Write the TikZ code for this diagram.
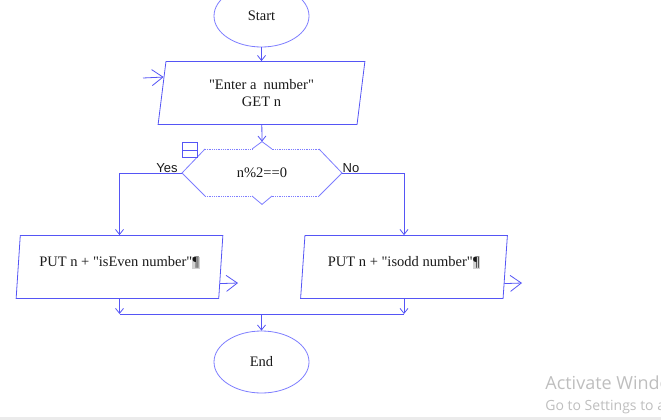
\documentclass[tikz,border=0pt]{standalone}
\usepackage{fontspec}
\setmainfont{Liberation Serif}
\newfontfamily\yesnofont{Liberation Sans}
\newfontfamily\winfont{Open Sans}
\usetikzlibrary{arrows.meta,shapes.geometric,calc}
\definecolor{rapBlue}{RGB}{85,85,245}
\definecolor{rapLight}{RGB}{125,125,255}
\definecolor{ink}{RGB}{25,25,25}
\definecolor{winGray}{RGB}{190,190,190}
\newcommand{\pil}{{\setlength{\fboxsep}{0.4pt}\colorbox{black!18}{¶}}}
\newcommand{\dq}{\textquotedbl}

\begin{document}
\begin{tikzpicture}[
  x=1pt,y=-1pt,
  >={Straight Barb[length=5pt,width=8pt]},
  line width=0.8pt,
  font=\fontsize{14.5}{17}\selectfont,
  term/.style={ellipse,draw=rapLight,minimum width=95pt,minimum height=62pt,text=ink,inner sep=0pt},
  io/.style={trapezium,trapezium left angle=81,trapezium right angle=99,trapezium stretches=true,draw=rapBlue,minimum width=207pt,minimum height=63pt,text=ink,align=center,inner sep=0pt},
  put/.style={io,text depth=11pt},
  flow/.style={draw=rapBlue,->},
  iofl/.style={draw=rapBlue,-{Straight Barb[length=11pt,width=16pt]}},
  lbl/.style={font=\yesnofont\fontsize{13}{15}\selectfont,text=ink,inner sep=0pt},
  win/.style={text=winGray,anchor=west,inner sep=0pt}
]
  \useasboundingbox (0,0) rectangle (661,420);

  % Input
  \node[term] (start) at (261.5,16) {Start};
  \node[io] (getn) at (261.5,93) {\dq Enter a\ \ number\dq\\GET n};
  \coordinate (inFrom) at (143,78);
  \draw[iofl] (inFrom) -- ($(getn.bottom left corner)!.75!(getn.top left corner)$);
  \draw[flow] (start) -- (getn);

  % Decision
  \node[minimum width=160pt,minimum height=62pt,inner sep=0pt,text=ink] (test) at (262,173) {n\%2==0};
  \foreach \s in {1,-1} {
    \draw[rapLight] ($(test)+(\s*57,-24)$) -- ($(test)+(\s*80,0)$) -- ($(test)+(\s*57,23)$);
    \draw[rapLight,densely dotted] ($(test)+(\s*57,-24)$) -- ($(test)+(\s*10,-24)$)
      ($(test)+(\s*57,23)$) -- ($(test)+(\s*10,23)$);
  }
  \draw[rapLight] ($(test)+(-10,-24)$) -- (test.north) -- ($(test)+(10,-24)$)
    ($(test)+(-10,23)$) -- (test.south) -- ($(test)+(10,23)$);
  \draw[rapBlue,line width=0.6pt] ($(test)+(-80,-31)$) rectangle ($(test)+(-65,-16)$)
    ($(test)+(-80,-23)$) -- ($(test)+(-65,-23)$);
  \draw[flow] (getn) -- (test.north);
  \node[lbl] (yes) at (167,168) {Yes};
  \node[lbl] (no) at (351,168) {No};

  % Output branches
  \node[put] (isEven) at (119.5,267) {PUT n + \dq isEven number\dq\pil};
  \node[put] (isOdd) at (404,267) {PUT n + \dq isodd number\dq\pil};
  \draw[flow] (test.west) -| (isEven.north);
  \draw[flow] (test.east) -| (isOdd.north);
  \coordinate (evenTo) at (238,283);
  \coordinate (oddTo) at (522,283);
  \draw[iofl] ($(isEven.bottom right corner)!.24!(isEven.top right corner)$) -- (evenTo);
  \draw[iofl] ($(isOdd.bottom right corner)!.24!(isOdd.top right corner)$) -- (oddTo);

  % Join and end
  \coordinate (join) at (261.5,314);
  \draw[flow] (isEven.south) -- (isEven.south |- join);
  \draw[flow] (isOdd.south) -- (isOdd.south |- join);
  \draw[rapBlue] (isEven.south |- join) -- (isOdd.south |- join);
  \node[term] (end) at (261.5,362) {End};
  \draw[flow] (join) -- (end);

  % Windows watermark
  \node[win,font=\winfont\fontsize{18}{21}\selectfont] (act) at (545,383) {Activate Windows};
  \node[win,font=\winfont\fontsize{14}{16}\selectfont] (goto) at (545,407) {Go to Settings to activate Windows.};
  \fill[black!8] (0,417) rectangle (661,420);
\end{tikzpicture}
\end{document}
